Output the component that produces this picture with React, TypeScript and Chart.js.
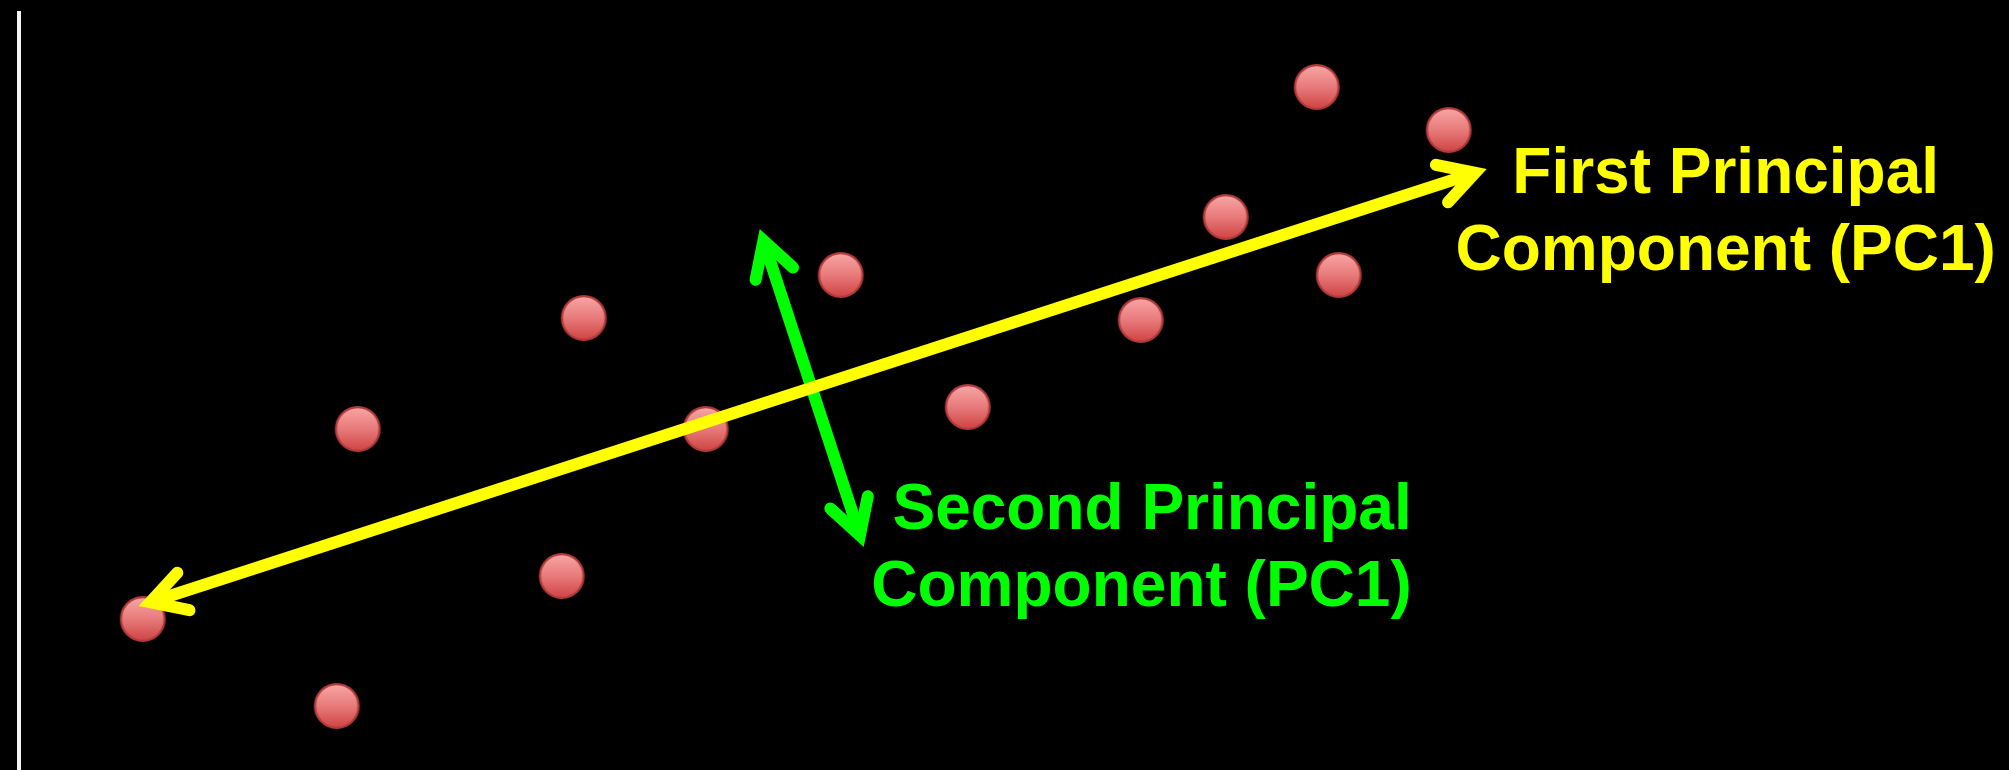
import React, { useEffect, useRef } from "react";
import { Chart, registerables } from "chart.js";

Chart.register(...registerables);

// ---- data (x: distance right of the vertical axis, y: height above the bottom) ----
const pointsX = [1.24, 3.18, 3.39, 5.43, 5.65, 6.87, 8.22, 9.49, 11.22, 12.07, 12.98, 13.2, 14.3];
const pointsY = [1.51, 0.64, 3.41, 1.94, 4.52, 3.41, 4.95, 3.63, 4.5, 5.53, 6.83, 4.95, 6.4];

// double-headed arrows: [tail tip, head tip]
const pc1X = [1.2, 14.68];
const pc1Y = [1.64, 6.01];
const pc2X = [7.41, 8.45];
const pc2Y = [5.41, 2.23];

const pc1Label = ["First Principal", "Component (PC1)"];
const pc2Label = ["Second Principal", "Component (PC1)"];
const pc1LabelAnchor = [17.07, 5.77];
const pc2LabelAnchor = [13.93, 2.41];

const xRange = [0, 19.903];
const yRange = [0, 7.57];

// ---- styles ----
const YELLOW = "#ffff00";
const GREEN = "#00ff00";
const ARROW_W = 12;
const HEAD_A = (29.5 * Math.PI) / 180;
const HEAD_L = 40;
const FONT = 'bold 64px "Liberation Sans", Arial, Helvetica, sans-serif';
const LINE_H = 77;

function makeDot(): HTMLCanvasElement {
  const c = document.createElement("canvas");
  c.width = 50;
  c.height = 50;
  const g = c.getContext("2d")!;
  const grad = g.createLinearGradient(0, 3, 0, 47);
  grad.addColorStop(0, "#f8a6a6");
  grad.addColorStop(0.5, "#e87a7a");
  grad.addColorStop(1, "#cf4343");
  g.beginPath();
  g.arc(25, 25, 21.8, 0, Math.PI * 2);
  g.fillStyle = grad;
  g.fill();
  g.lineWidth = 2.2;
  g.strokeStyle = "#b23a3a";
  g.stroke();
  return c;
}

function drawDoubleArrow(ctx: CanvasRenderingContext2D, x0: number, y0: number, x1: number, y1: number, color: string) {
  const dx = x1 - x0;
  const dy = y1 - y0;
  const len = Math.hypot(dx, dy);
  const ux = dx / len;
  const uy = dy / len;
  const d = ARROW_W / 2 / Math.sin(HEAD_A);
  const ax = x0 + ux * d;
  const ay = y0 + uy * d;
  const bx = x1 - ux * d;
  const by = y1 - uy * d;
  ctx.save();
  ctx.strokeStyle = color;
  ctx.lineWidth = ARROW_W;
  ctx.lineCap = "butt";
  ctx.beginPath();
  ctx.moveTo(ax, ay);
  ctx.lineTo(bx, by);
  ctx.stroke();
  ctx.lineCap = "round";
  ctx.lineJoin = "miter";
  ctx.miterLimit = 10;
  const c = Math.cos(HEAD_A);
  const s = Math.sin(HEAD_A);
  const head = (vx: number, vy: number, kx: number, ky: number) => {
    const r1x = kx * c - ky * s;
    const r1y = kx * s + ky * c;
    const r2x = kx * c + ky * s;
    const r2y = -kx * s + ky * c;
    ctx.beginPath();
    ctx.moveTo(vx + r1x * HEAD_L, vy + r1y * HEAD_L);
    ctx.lineTo(vx, vy);
    ctx.lineTo(vx + r2x * HEAD_L, vy + r2y * HEAD_L);
    ctx.stroke();
  };
  head(bx, by, -ux, -uy);
  head(ax, ay, ux, uy);
  ctx.restore();
}

const arrowPlugin = {
  id: "pcArrows",
  afterDatasetsDraw(chart: any) {
    const ctx = chart.ctx as CanvasRenderingContext2D;
    chart.data.datasets.forEach((ds: any, i: number) => {
      if (!ds.arrowColor) return;
      const meta = chart.getDatasetMeta(i);
      const p0 = meta.data[0];
      const p1 = meta.data[1];
      if (!p0 || !p1) return;
      drawDoubleArrow(ctx, p0.x, p0.y, p1.x, p1.y, ds.arrowColor);
    });
    // labels
    const xs = chart.scales.x;
    const ys = chart.scales.y;
    const labels: [string[], number[], string, CanvasTextAlign][] = [
      [pc1Label, pc1LabelAnchor, YELLOW, "center"],
      [pc2Label, pc2LabelAnchor, GREEN, "right"],
    ];
    ctx.save();
    ctx.font = FONT;
    ctx.textBaseline = "alphabetic";
    labels.forEach(([lines, anchor, color, align]) => {
      const px = xs.getPixelForValue(anchor[0]);
      const py = ys.getPixelForValue(anchor[1]);
      ctx.fillStyle = color;
      ctx.textAlign = align;
      lines.forEach((t, k) => ctx.fillText(t, px, py + k * LINE_H));
    });
    ctx.restore();
  },
};

export default function App() {
  const ref = useRef<HTMLCanvasElement | null>(null);
  useEffect(() => {
    document.body.style.margin = "0";
    document.body.style.background = "#000";
    document.body.style.overflow = "hidden";
    const canvas = ref.current;
    if (!canvas) return;
    const dot = makeDot();
    const chart = new Chart(canvas, {
      type: "scatter",
      data: {
        datasets: [
          {
            label: "points",
            data: pointsX.map((x, i) => ({ x, y: pointsY[i] })),
            pointStyle: dot as any,
            pointRadius: 22,
            showLine: false,
          },
          {
            label: "PC2",
            data: pc2X.map((x, i) => ({ x, y: pc2Y[i] })),
            pointRadius: 0,
            showLine: false,
            arrowColor: GREEN,
          } as any,
          {
            label: "PC1",
            data: pc1X.map((x, i) => ({ x, y: pc1Y[i] })),
            pointRadius: 0,
            showLine: false,
            arrowColor: YELLOW,
          } as any,
        ],
      },
      options: {
        animation: false,
        responsive: false,
        maintainAspectRatio: false,
        devicePixelRatio: 1,
        events: [],
        layout: { autoPadding: false, padding: { left: 18.7, top: 13, right: 0, bottom: 0 } },
        plugins: { legend: { display: false }, tooltip: { enabled: false }, title: { display: false } },
        scales: {
          x: { type: "linear", min: xRange[0], max: xRange[1], display: false },
          y: {
            type: "linear",
            min: yRange[0],
            max: yRange[1],
            display: true,
            ticks: { display: false },
            grid: { display: true, drawOnChartArea: false, drawTicks: false },
            border: { display: true, color: "#f4f4f4", width: 4 },
          },
        },
      },
      plugins: [arrowPlugin],
    });
    return () => chart.destroy();
  }, []);
  return <canvas ref={ref} width={2009} height={770} style={{ display: "block" }} />;
}
